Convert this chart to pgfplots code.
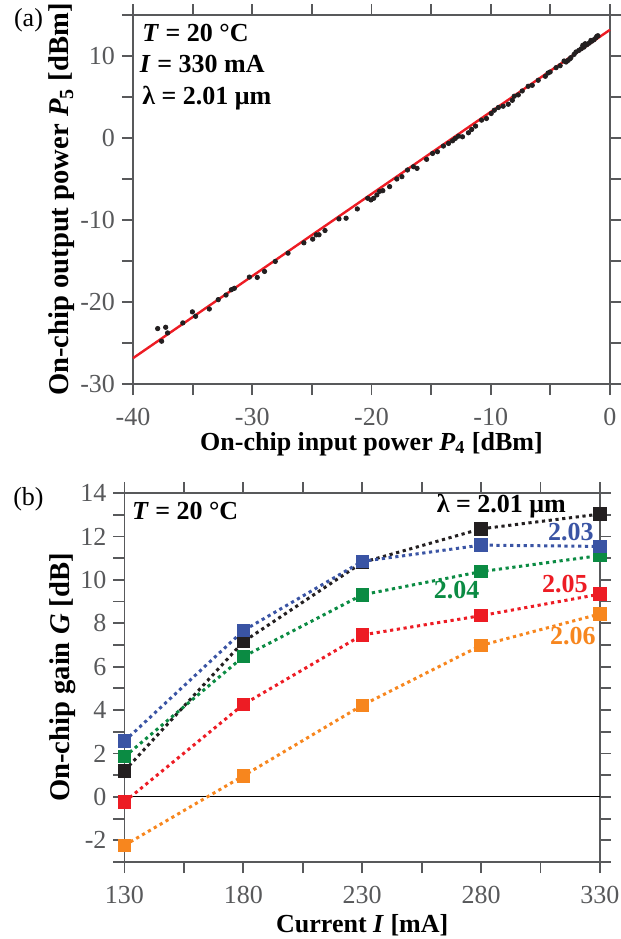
\documentclass[border=0pt]{standalone}
\usepackage{fontspec}
\setmainfont{Liberation Serif}
\usepackage{pgfplots}
\pgfplotsset{compat=1.18}

\definecolor{axgray}{HTML}{58595B}
\definecolor{cblack}{HTML}{231F20}
\definecolor{cblue}{HTML}{3A54A4}
\definecolor{cgreen}{HTML}{0B8B43}
\definecolor{cred}{HTML}{ED1C24}
\definecolor{corange}{HTML}{F7861E}

\newcommand{\fs}{\fontsize{13}{15}\selectfont}
\newcommand{\fy}{\fontsize{14.3}{16}\selectfont}

\tikzset{note/.style={font=\fs\bfseries, inner sep=0pt}}

\pgfplotsset{
  panel/.style={
    scale only axis,
    axis line style={axgray, line width=0.9pt},
    tick style={axgray, line width=0.9pt},
    tick align=outside,
    major tick length=5.5pt, minor tick length=5.5pt,
    ticklabel style={font=\fs, text=axgray},
    xticklabel style={yshift=-3pt},
    xlabel style={font=\fs\bfseries},
    ylabel style={font=\fy\bfseries},
    /pgf/number format/assume math mode=true,
    clip=false,
  },
  gain/.style={line width=1.5pt, dash pattern=on 1.6pt off 1.8pt,
    mark=square*, mark size=2.6pt, mark options={solid}},
}

\begin{document}
\begin{tikzpicture}
\useasboundingbox (0,0) rectangle (310.5pt,-469.5pt);

% (a) output vs input power
\begin{axis}[panel,
  at={(66.5pt,-192pt)}, anchor=south west,
  width=238.5pt, height=184.5pt,
  xmin=-40, xmax=0, ymin=-30, ymax=15,
  xtick={-40,-30,...,0}, minor xtick={-35,-25,...,-5},
  ytick={-30,-20,...,10}, minor ytick={-25,-15,...,15},
  xlabel={On-chip input power \textit{P}\textsubscript{4} [dBm]},
  ylabel={On-chip output power \textit{P}\textsubscript{5} [dBm]},
  xlabel style={at={(axis description cs:0.5,0)}, anchor=center, yshift=-30pt},
  ylabel style={at={(axis description cs:0,0.5)}, anchor=center, yshift=35.5pt},
]
\addplot[cred, line width=1.2pt] coordinates {(-40,-26.85) (0,13.2)};
\addplot[only marks, mark=*, mark size=1.1pt, cblack] coordinates {
(-37.93,-23.24) (-37.6,-24.78) (-37.26,-23.08) (-37.1,-23.77) (-35.82,-22.55)
(-35.02,-21.2) (-34.75,-21.74) (-33.6,-20.85) (-32.85,-19.71) (-32.2,-19.15)
(-31.75,-18.5) (-31.5,-18.33) (-30.24,-16.96) (-29.58,-17.0) (-28.97,-16.27)
(-28.07,-15.05) (-27.0,-14.04) (-25.67,-12.78) (-24.93,-12.33) (-24.63,-11.81)
(-24.4,-11.8) (-23.9,-11.28) (-22.73,-9.86) (-22.13,-9.78) (-21.19,-8.65)
(-20.32,-7.35) (-20.05,-7.55) (-19.82,-7.35) (-19.55,-6.94) (-19.32,-6.5)
(-19.05,-6.42) (-18.48,-5.93) (-17.88,-5.0) (-17.45,-4.71) (-16.98,-3.9)
(-16.48,-3.5) (-16.18,-3.7) (-15.38,-2.6) (-14.88,-1.88) (-14.47,-1.67)
(-13.97,-0.98) (-13.54,-0.66) (-13.2,-0.34) (-12.97,-0.05) (-12.7,0.23)
(-12.37,0.15) (-11.87,0.64) (-11.6,1.04) (-11.27,1.45) (-10.77,2.18)
(-10.36,2.38) (-9.96,2.99) (-9.7,3.39) (-9.36,3.72) (-8.96,3.88)
(-8.53,4.12) (-8.19,4.6) (-8.03,5.1) (-7.69,5.26) (-7.36,5.74)
(-6.86,6.31) (-6.52,6.43) (-6.02,7.04) (-5.42,7.53) (-5.19,7.93)
(-5.02,8.05) (-4.52,8.58) (-4.18,8.82) (-3.85,9.39) (-3.68,9.27)
(-3.51,9.47) (-3.35,9.68) (-3.28,9.8) (-3.01,10.2) (-2.85,10.49)
(-2.61,10.69) (-2.41,10.89) (-2.28,11.3) (-2.18,11.09) (-2.08,11.5)
(-1.94,11.38) (-1.74,11.58) (-1.6,11.9) (-1.51,11.82) (-1.34,11.99)
(-1.18,12.23) (-1.1,12.4) (-1.01,12.47)
};
\node[note, anchor=base west] at (axis cs:-39.25,11.8) {\textit{T} = 20 °C};
\node[note, anchor=base west] at (axis cs:-39.45,7.95) {\textit{I} = 330 mA};
\node[note, anchor=base west] at (axis cs:-39.25,4.1) {λ = 2.01 μm};
\end{axis}

% (b) gain vs current
\begin{axis}[panel,
  at={(62.25pt,-431pt)}, anchor=south west,
  width=237.75pt, height=184.5pt,
  xmin=130, xmax=330, ymin=-3, ymax=14,
  xtick={130,180,...,330}, minor xtick={155,205,255,305},
  ytick={-2,0,...,14}, minor ytick={-3,-1,...,13},
  xlabel={Current \textit{I} [mA]},
  ylabel={On-chip gain \textit{G} [dB]},
  xlabel style={at={(axis description cs:0.5,0)}, anchor=center, yshift=-31.5pt},
  ylabel style={at={(axis description cs:0,0.5)}, anchor=center, yshift=31pt},
]
\addplot[black, line width=0.6pt] coordinates {(130,0) (330,0)};
\addplot[gain, corange] coordinates {(130,-2.23) (180,0.97) (230,4.22) (280,6.98) (330,8.43)};
\addplot[gain, cred] coordinates {(130,-0.23) (180,4.26) (230,7.46) (280,8.35) (330,9.34)};
\addplot[gain, cblack] coordinates {(130,1.2) (180,7.15) (230,10.8) (280,12.35) (330,13.03)};
\addplot[gain, cgreen] coordinates {(130,1.85) (180,6.46) (230,9.31) (280,10.38) (330,11.12)};
\addplot[gain, cblue] coordinates {(130,2.57) (180,7.66) (230,10.85) (280,11.6) (330,11.54)};
\node[note, anchor=base west] at (axis cs:133,12.77) {\textit{T} = 20 °C};
\node[note, anchor=base east] at (axis cs:315.8,13.08) {λ = 2.01 μm};
\node[note, anchor=base east, text=cblue] at (axis cs:327.5,11.8) {2.03};
\node[note, anchor=base west, text=cgreen] at (axis cs:260,9.15) {2.04};
\node[note, anchor=base east, text=cred] at (axis cs:325,9.42) {2.05};
\node[note, anchor=base east, text=corange] at (axis cs:328.3,7.0) {2.06};
\end{axis}

\node[font=\fs] at (14.25pt,-10pt) {(a)};
\node[font=\fs] at (14.25pt,-249.5pt) {(b)};
\end{tikzpicture}
\end{document}
